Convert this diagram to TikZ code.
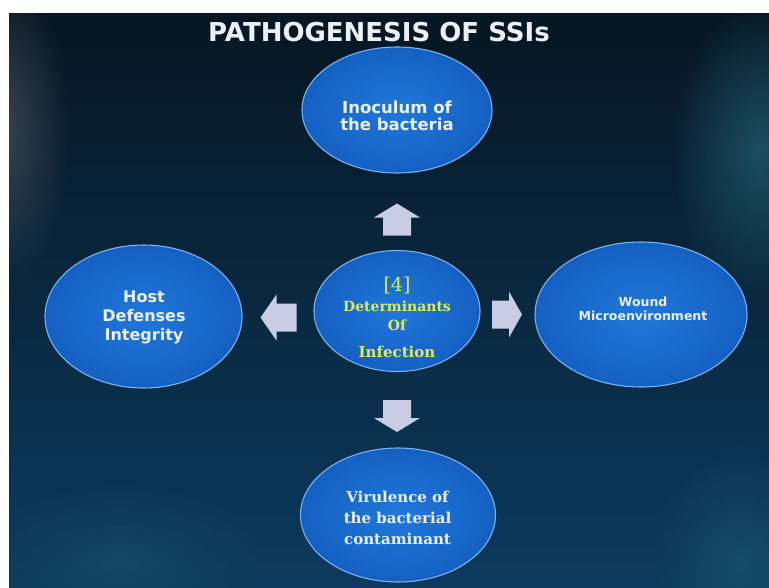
\documentclass[tikz,border=0pt]{standalone}
\usepackage{fontspec}
\setsansfont{DejaVu Sans}
\setmainfont{DejaVu Serif}
\usetikzlibrary{shapes.geometric,fadings}
\tikzfading[name=softglow, inner color=transparent!0, outer color=transparent!100]
\definecolor{bgtop}{RGB}{7,22,34}
\definecolor{bgbot}{RGB}{12,58,94}
\definecolor{ellin}{RGB}{32,120,218}
\definecolor{ellout}{RGB}{20,96,194}
\definecolor{ellrim}{RGB}{120,178,238}
\definecolor{yel}{RGB}{222,238,80}
\definecolor{wtxt}{RGB}{234,240,246}
\definecolor{arrowc}{RGB}{200,204,228}
\definecolor{haze}{RGB}{70,78,88}
\definecolor{teal}{RGB}{40,110,130}
\tikzset{
  oval/.style={ellipse, inner sep=0pt, draw=ellrim, line width=1.1pt,
    inner color=ellin, outer color=ellout},
  sanslbl/.style={align=center, text=wtxt, inner sep=0pt, font=\sffamily\bfseries},
  seriflbl/.style={align=center, inner sep=0pt, font=\rmfamily\bfseries},
  pics/barrow/.style={code={
    \fill[arrowc] ({-#1/2},-14) -- (2,-14) -- (2,-23) -- ({#1/2},0) -- (2,23)
      -- (2,14) -- ({-#1/2},14) -- cycle;
  }}
}
\begin{document}
\begin{tikzpicture}[x=1pt,y=-1pt]
\useasboundingbox (0,0) rectangle (769,587);
\fill[white] (0,0) rectangle (769,587);
\shade[top color=bgtop, bottom color=bgbot] (9,13) rectangle (769,587);
\begin{scope}
  \clip (9,13) rectangle (769,587);
  \fill[haze, path fading=softglow, opacity=0.8] (0,130) ellipse (70 and 160);
  \fill[teal, path fading=softglow, opacity=0.6] (760,150) ellipse (90 and 150);
  \fill[teal, path fading=softglow, opacity=0.35] (740,560) ellipse (90 and 120);
  \fill[teal, path fading=softglow, opacity=0.25] (120,560) ellipse (150 and 80);
\end{scope}

\node[sanslbl, font=\sffamily\bfseries\fontsize{26}{28}\selectfont] (title) at (379,32.5) {PATHOGENESIS OF SSIs};

\node[oval, minimum width=190pt, minimum height=126pt] (inoc) at (397,110) {};
\node[oval, minimum width=166pt, minimum height=121pt] (det) at (397,311) {};
\node[oval, minimum width=197pt, minimum height=143pt] (host) at (143.5,316.5) {};
\node[oval, minimum width=212pt, minimum height=145pt] (wound) at (641,314.5) {};
\node[oval, minimum width=195pt, minimum height=134pt] (vir) at (398,515) {};

\node[sanslbl, font=\sffamily\bfseries\fontsize{16.5}{17}\selectfont] (inoct) at (397,115.5) {Inoculum of\\the bacteria};
\node[sanslbl, font=\sffamily\bfseries\fontsize{16}{19}\selectfont] (hostt) at (144,317) {Host\\Defenses\\Integrity};
\node[sanslbl, font=\sffamily\bfseries\fontsize{12.5}{14}\selectfont] (woundt) at (643,309) {Wound\\Microenvironment};
\node[seriflbl, text=wtxt, font=\rmfamily\bfseries\fontsize{15}{21}\selectfont] (virt) at (397.5,518) {Virulence of\\the bacterial\\contaminant};
\node[seriflbl, text=yel, font=\rmfamily\bfseries\fontsize{14}{19}\selectfont] (dett) at (397,317)
  {{\mdseries\fontsize{19}{19}\selectfont[4]}\\[1pt]Determinants\\Of\\[8pt]{\fontsize{15}{15}\selectfont Infection}};

\pic[rotate=90] (up) at (397,219.5) {barrow=32};
\pic[rotate=-90] (down) at (397,416) {barrow=32};
\pic[rotate=180] (left) at (278.5,317.5) {barrow=36};
\pic (right) at (507,314.5) {barrow=30};
\end{tikzpicture}
\end{document}
